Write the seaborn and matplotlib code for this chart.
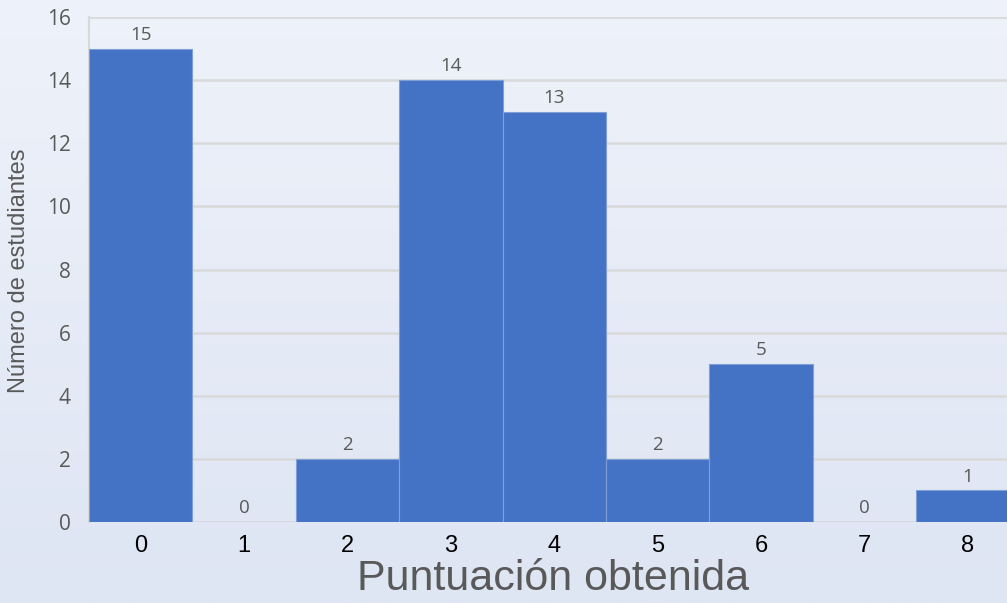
import numpy as np
import pandas as pd
import matplotlib.pyplot as plt
import seaborn as sns
from matplotlib.colors import LinearSegmentedColormap

# data
scores = [0, 1, 2, 3, 4, 5, 6, 7, 8]
students = [15, 0, 2, 14, 13, 2, 5, 0, 1]

df = pd.DataFrame({"score": [str(s) for s in scores], "n": students})

sns.set_style("white")
plt.rcParams["font.family"] = ["Open Sans", "DejaVu Sans"]

fig = plt.figure(figsize=(10.07, 6.03), dpi=100)

# light blue gradient background
bg = fig.add_axes([0, 0, 1, 1], zorder=-10)
grad = np.linspace(0, 1, 256).reshape(-1, 1)
cmap = LinearSegmentedColormap.from_list("bg", ["#eef2fa", "#dee5f3"])
bg.imshow(grad, aspect="auto", cmap=cmap, extent=[0, 1, 0, 1])
bg.axis("off")

ax = fig.add_axes([0.0884, 0.1343, 0.9116, 0.8375])
ax.patch.set_alpha(0)

sns.barplot(data=df, x="score", y="n", color="#4472c4", width=1.0,
            saturation=1, edgecolor="#7f9fd8", linewidth=0.8, ax=ax, zorder=3)

ax.set_ylim(0, 16)
ax.set_yticks(range(0, 17, 2))
ax.set_xlim(-0.5, 8.38)
ax.yaxis.grid(True, color="#d9d9d9", linewidth=1.8, zorder=0)
ax.set_axisbelow(True)
for s in ["top", "right", "bottom"]:
    ax.spines[s].set_visible(False)
ax.spines["left"].set_color("#d9d9d9")
ax.spines["left"].set_linewidth(1.5)

for i, v in enumerate(students):
    ax.text(i, v + 0.15, str(v), ha="center", va="bottom", fontsize=13.5, color="#595959", zorder=4)

ax.tick_params(axis="y", labelsize=15, labelcolor="#595959", length=0, pad=13)
ax.tick_params(axis="x", labelsize=17, labelcolor="#000000", length=0, pad=9)
for t in ax.get_xticklabels():
    t.set_family(["Liberation Sans", "DejaVu Sans"])

ax.set_xlabel("Puntuación obtenida", fontsize=31, color="#595959",
              family=["Liberation Sans", "DejaVu Sans"])
ax.set_ylabel("Número de estudiantes", fontsize=17, color="#595959",
              family=["Liberation Sans", "DejaVu Sans"])
ax.xaxis.set_label_coords(0.505, -0.074)
ax.yaxis.set_label_coords(-0.064, 0.498)

fig.savefig("out.png", dpi=100)
